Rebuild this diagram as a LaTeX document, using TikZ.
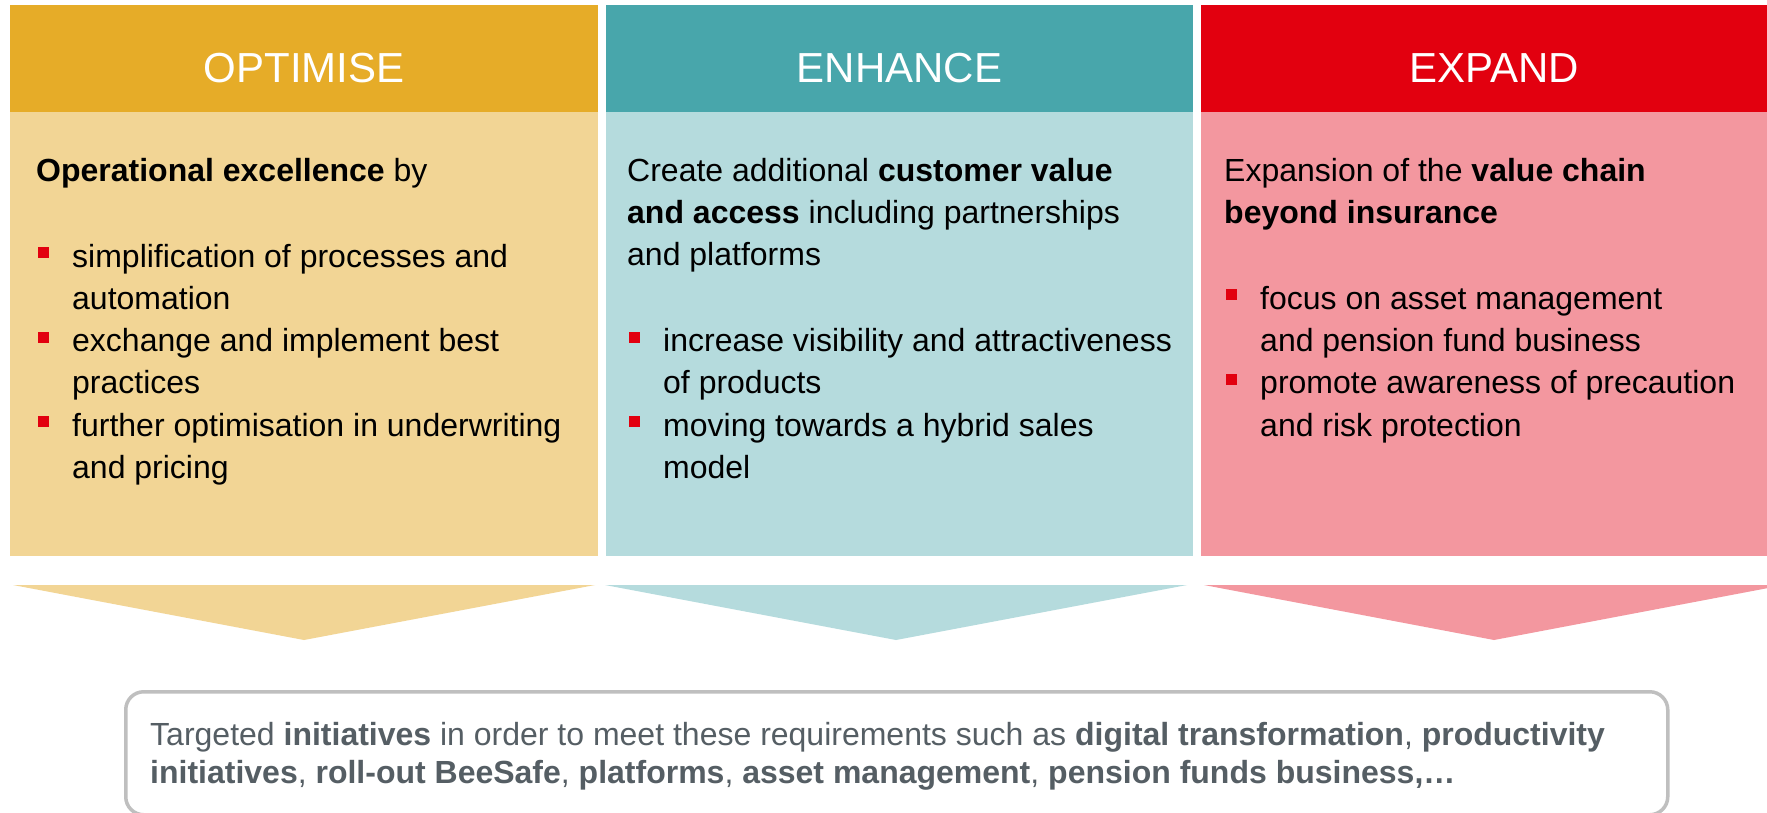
\documentclass[tikz,border=0pt]{standalone}
\usepackage{fontspec}
\setmainfont{Liberation Sans}
\definecolor{hOpt}{HTML}{E6AC28}
\definecolor{bOpt}{HTML}{F2D595}
\definecolor{hEnh}{HTML}{48A6AB}
\definecolor{bEnh}{HTML}{B5DBDD}
\definecolor{hExp}{HTML}{E2000F}
\definecolor{bExp}{HTML}{F3979F}
\definecolor{bulred}{HTML}{E2000F}
\definecolor{txtgray}{HTML}{555E64}
\definecolor{boxgray}{HTML}{BFBFBF}
\newcommand{\bul}{\makebox[36pt][l]{\hspace{2pt}\raisebox{9pt}{\textcolor{bulred}{\rule{11pt}{11pt}}}}}
\newcommand{\ind}{\hspace*{36pt}}
\begin{document}
\begin{tikzpicture}[x=1pt,y=-1pt,
  headtxt/.style={anchor=base,text=white,inner sep=0pt,font=\fontsize{42}{50}\selectfont},
  bodytxt/.style={anchor=base west,inner sep=0pt,text=black,font=\fontsize{32}{42.2}\selectfont},
  bottxt/.style={anchor=base west,inner sep=0pt,text=txtgray,font=\fontsize{32}{38}\selectfont}]
\useasboundingbox (0,0) rectangle (1767,812);
\clip (0,0) rectangle (1767,812);
\fill[white] (0,0) rectangle (1767,812);
% columns
\fill[hOpt] (10,5) rectangle (598,112);
\fill[bOpt] (10,112) rectangle (598,556);
\fill[hEnh] (606,5) rectangle (1193,112);
\fill[bEnh] (606,112) rectangle (1193,556);
\fill[hExp] (1201,5) rectangle (1788,112);
\fill[bExp] (1201,112) rectangle (1788,556);
% arrows
\fill[bOpt] (13,585) -- (595,585) -- (304,640) -- cycle;
\fill[bEnh] (605,585) -- (1187,585) -- (896,640) -- cycle;
\fill[bExp] (1204,585) -- (1784,585) -- (1494,640) -- cycle;
% headers
\node[headtxt] (h1) at (304,82) {OPTIMISE};
\node[headtxt] (h2) at (899.5,82) {ENHANCE};
\node[headtxt] (h3) at (1494,82) {EXPAND};
% bodies
\node[bodytxt] (b1) at (36,181) {\parbox[t]{700pt}{\raggedright
\textbf{Operational excellence} by\\[44pt]
\bul simplification of processes and\\
\ind automation\\
\bul exchange and implement best\\
\ind practices\\
\bul further optimisation in underwriting\\
\ind and pricing}};
\node[bodytxt] (b2) at (627,181) {\parbox[t]{700pt}{\raggedright
Create additional \textbf{customer value}\\
\textbf{and access} including partnerships\\
and platforms\\[44pt]
\bul increase visibility and attractiveness\\
\ind of products\\
\bul moving towards a hybrid sales\\
\ind model}};
\node[bodytxt] (b3) at (1224,181) {\parbox[t]{700pt}{\raggedright
Expansion of the \textbf{value chain}\\
\textbf{beyond insurance}\\[44pt]
\bul focus on asset management\\
\ind and pension fund business\\
\bul promote awareness of precaution\\
\ind and risk protection}};
% bottom box
\node[draw=boxgray,line width=3.5pt,rounded corners=18pt,minimum width=1542pt,minimum height=123pt,inner sep=0pt,anchor=north west] (box) at (124,690) {};
\node[bottxt] (bt) at (150,745) {\parbox[t]{1550pt}{\raggedright
Targeted \textbf{initiatives} in order to meet these requirements such as \textbf{digital transformation}, \textbf{productivity}\\
\textbf{initiatives}, \textbf{roll-out BeeSafe}, \textbf{platforms}, \textbf{asset management}, \textbf{pension funds business,…}}};
\end{tikzpicture}
\end{document}
